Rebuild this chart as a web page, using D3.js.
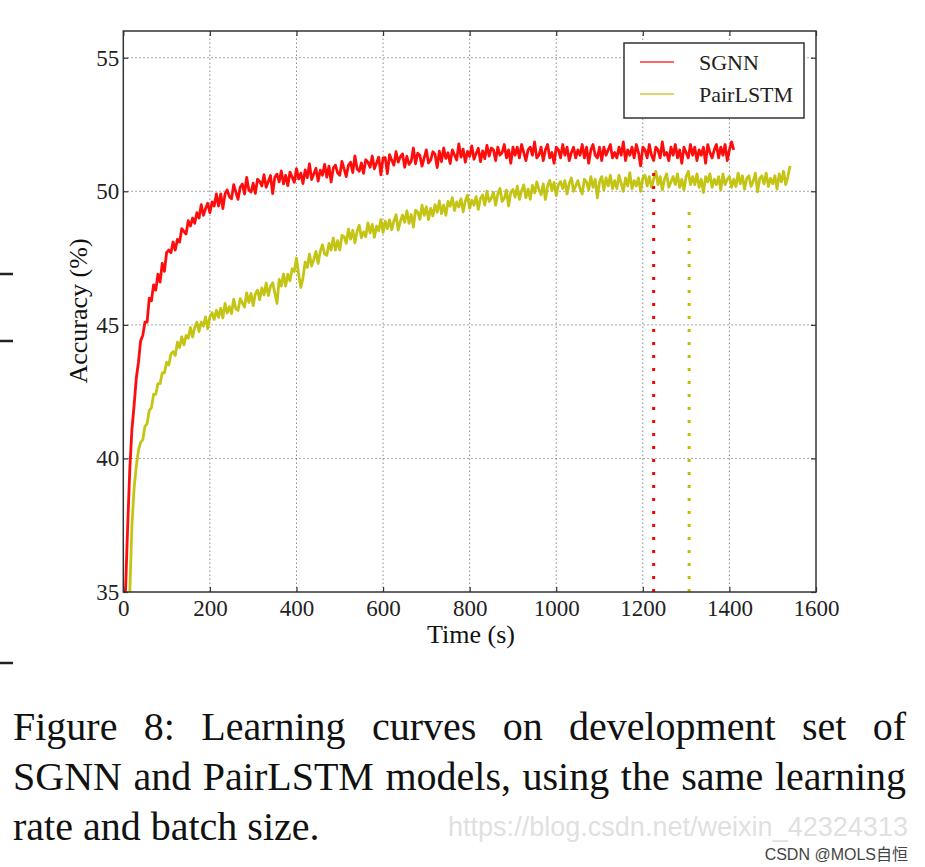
<!DOCTYPE html>
<html><head><meta charset="utf-8">
<script src="https://cdn.jsdelivr.net/npm/d3@7"></script>
<style>
html,body{margin:0;padding:0;background:#fff;}
svg{display:block;}
</style></head>
<body>
<svg id="chart" width="925" height="867"></svg>
<script>
// ---------- DATA ----------
const xTicks = [0,200,400,600,800,1000,1200,1400,1600];
const yTicks = [35,40,45,50,55];
const seriesNames = ["SGNN","PairLSTM"];
const seriesColors = ["#ff0000","#bfbf00"];
const timeStep = 5;
const sgnnStart = 5;
const pairStart = 15;
const sgnnAcc = [
35.0,37.4,39.6,41.1,42.0,43.0,43.6,44.4,44.6,45.1,45.1,46.0,45.9,46.5,46.3,46.9,46.6,47.3,47.0,47.7,
47.8,47.7,48.1,47.8,48.2,48.1,48.6,48.5,48.4,48.9,48.7,49.0,48.8,49.2,49.0,49.5,49.1,49.35,49.55,49.2,
49.6,49.45,49.9,49.45,49.9,49.35,49.9,50.05,49.8,49.72,50.25,49.97,49.7,50.15,50.27,49.9,50.52,50.05,49.97,50.3,
49.92,50.45,50.37,50.2,50.62,50.15,50.37,50.59,49.91,50.53,50.64,50.35,50.76,50.28,50.6,50.21,50.72,50.53,50.34,50.85,
50.46,50.68,50.29,50.8,50.51,51.03,50.44,50.65,50.86,50.38,50.79,50.6,51.01,50.53,50.94,50.35,50.86,50.98,50.69,50.6,
51.12,50.84,50.55,50.97,51.09,50.7,51.32,50.84,50.75,51.06,50.67,51.18,51.09,50.9,51.32,50.84,51.06,51.28,50.62,51.25,
51.26,50.66,51.37,51.17,50.98,51.48,51.09,51.29,51.4,50.9,51.31,51.01,51.12,51.62,51.03,51.43,51.34,50.94,51.25,51.55,
51.06,51.17,51.48,51.39,50.89,51.5,51.11,51.62,51.23,51.44,51.04,51.55,51.36,51.17,51.77,51.28,51.58,51.09,51.49,51.3,
51.7,51.2,51.41,51.61,51.11,51.51,51.22,51.72,51.32,51.62,51.55,51.15,51.65,51.35,51.45,51.75,51.25,51.55,51.05,51.65,
51.35,51.65,51.25,51.75,51.45,51.15,51.55,51.65,51.35,51.85,51.25,51.35,51.65,51.15,51.55,51.75,51.25,51.45,51.05,51.65,
51.55,51.25,51.75,51.35,51.65,51.15,51.45,51.65,51.25,51.55,51.35,51.75,51.25,51.65,51.05,51.55,51.75,51.35,51.25,51.65,
51.15,51.65,51.35,51.55,51.75,51.25,51.45,51.25,51.65,51.35,51.85,51.15,51.55,51.35,51.65,51.25,51.75,51.45,50.95,51.65,
51.55,51.25,51.75,51.35,51.15,51.65,51.55,51.25,51.85,51.35,51.45,51.15,51.65,51.35,51.75,51.25,51.55,51.05,51.65,51.45,
51.25,51.75,51.35,51.65,51.15,51.55,51.35,51.65,51.05,51.75,51.45,51.25,51.55,51.75,51.25,51.65,51.35,51.75,51.15,51.55,51.85,51.55
];
const pairAcc = [
35.0,37.5,38.9,39.7,40.3,40.6,40.7,41.2,41.3,41.8,41.9,42.4,42.4,42.8,42.8,43.2,43.2,43.6,43.5,43.9,
44.0,43.85,44.35,44.15,44.55,44.25,44.6,44.5,44.9,44.55,44.9,45.1,44.75,45.1,44.95,45.3,44.85,45.3,45.45,45.2,
45.54,45.28,45.62,45.26,45.8,45.44,45.68,45.42,45.96,45.6,45.54,45.98,45.82,45.66,46.2,45.84,46.18,45.72,46.16,46.3,
45.94,46.38,46.12,46.56,46.1,46.44,46.58,46.2,45.8,46.7,46.45,46.9,46.45,46.9,46.65,47.1,47.0,47.5,46.9,46.4,
46.75,47.35,47.15,47.65,47.2,47.45,47.75,47.3,47.75,48.0,47.65,47.6,48.05,47.8,48.25,47.8,48.15,47.8,48.35,48.3,
48.05,48.58,48.21,48.54,48.07,48.5,48.73,48.26,48.48,48.3,48.82,48.44,48.76,48.28,48.7,48.52,48.94,48.46,48.88,48.6,
48.93,48.56,48.89,49.12,48.55,48.88,49.11,48.84,49.27,48.8,49.13,48.66,49.29,49.22,48.95,49.48,49.1,49.42,48.94,49.36,
49.08,49.5,49.22,49.64,49.16,49.48,49.1,49.62,49.44,49.76,49.28,49.6,49.41,49.72,49.23,49.64,49.85,49.36,49.67,49.48,
49.8,49.32,49.74,49.86,49.48,50.0,49.62,49.74,49.96,49.48,49.9,50.11,49.62,49.73,50.04,49.45,49.96,50.07,49.78,50.19,
49.7,50.02,50.24,49.76,50.08,49.7,50.22,49.94,50.35,50.06,49.87,50.28,49.69,50.2,50.41,50.02,50.33,49.84,50.25,50.36,
50.1,50.4,49.9,50.3,50.5,50.0,50.2,50.4,50.1,49.9,50.45,50.35,50.05,50.55,50.15,50.45,49.75,50.35,50.55,50.05,
50.5,50.2,50.6,50.1,50.4,50.1,50.6,50.3,50.0,50.5,50.2,50.7,50.1,50.4,50.2,50.5,50.0,50.5,50.6,50.2,
50.55,50.15,50.45,50.75,50.25,50.55,50.05,50.45,50.65,50.15,50.35,50.55,50.25,50.65,50.15,50.45,50.05,50.55,50.75,50.25,
50.55,50.25,50.65,50.15,50.45,49.95,50.55,50.35,50.65,50.15,50.45,50.25,50.55,50.05,50.65,50.25,50.45,50.55,50.15,50.45,
50.18,50.68,50.28,50.58,50.08,50.48,50.58,50.18,50.38,50.68,49.98,50.48,50.58,50.28,50.68,50.18,50.48,50.28,50.58,50.08,
50.65,50.35,50.75,50.25,50.55,50.95
];
const markerTimes = [1225, 1307];
const markerTops = [51.0, 49.45];
const xLabel = "Time (s)";
const yLabel = "Accuracy (%)";
const captionLines = [
  "Figure 8:  Learning curves on development set of",
  "SGNN and PairLSTM models, using the same learning",
  "rate and batch size."
];
const watermark = "https://blog.csdn.net/weixin_42324313";
const credit = "CSDN @MOLS自恒";

// ---------- CHART ----------
const svg = d3.select("#chart");
const serif = "'Liberation Serif','Times New Roman',serif";
const x = d3.scaleLinear().domain([0,1600]).range([123.3,816]);
const y = d3.scaleLinear().domain([35,56]).range([592,31]);

// margin marks on left edge
svg.selectAll("line.mm").data([274,341,663]).enter().append("line")
  .attr("x1",0).attr("x2",13).attr("y1",d=>d).attr("y2",d=>d)
  .attr("stroke","#222").attr("stroke-width",2.5);

const g = svg.append("g");

// grid
g.selectAll("line.gx").data(xTicks.slice(1,-1)).enter().append("line")
  .attr("x1",d=>x(d)).attr("x2",d=>x(d)).attr("y1",y(35)).attr("y2",y(56))
  .attr("stroke","#8a8a8a").attr("stroke-width",1).attr("stroke-dasharray","1.5,2.5");
g.selectAll("line.gy").data(yTicks.slice(1)).enter().append("line")
  .attr("x1",x(0)).attr("x2",x(1600)).attr("y1",d=>y(d)).attr("y2",d=>y(d))
  .attr("stroke","#8a8a8a").attr("stroke-width",1).attr("stroke-dasharray","1.5,2.5");

// series
const sgnnData = sgnnAcc.map((v,i)=>({t:sgnnStart+i*timeStep, v}));
const pairData = pairAcc.map((v,i)=>({t:pairStart+i*timeStep, v}));
const line = d3.line().x(d=>x(d.t)).y(d=>y(d.v));
g.append("path").datum(pairData).attr("d",line).attr("fill","none")
  .attr("stroke",seriesColors[1]).attr("stroke-width",2.8).attr("stroke-opacity",0.92).attr("stroke-linejoin","round");
g.append("path").datum(sgnnData).attr("d",line).attr("fill","none")
  .attr("stroke",seriesColors[0]).attr("stroke-width",2.8).attr("stroke-opacity",0.95).attr("stroke-linejoin","round");

// dotted marker lines
markerTimes.forEach((t,i)=>{
  g.append("line").attr("x1",x(t)).attr("x2",x(t)).attr("y1",y(35)).attr("y2",y(markerTops[i]))
    .attr("stroke",seriesColors[i]).attr("stroke-width",3).attr("stroke-dasharray","3,10");
});

// axes
const tickFont = sel => sel.selectAll("text").attr("font-family",serif).attr("font-size",23).attr("fill","#222");
const ax = g.append("g").attr("transform",`translate(0,${y(35)})`)
  .call(d3.axisBottom(x).tickValues(xTicks).tickSizeInner(-5).tickSizeOuter(0).tickPadding(8).tickFormat(d3.format("d")));
tickFont(ax);
const axT = g.append("g").attr("transform",`translate(0,${y(56)})`)
  .call(d3.axisTop(x).tickValues(xTicks).tickSizeInner(-5).tickSizeOuter(0).tickFormat(""));
const ay = g.append("g").attr("transform",`translate(${x(0)},0)`)
  .call(d3.axisLeft(y).tickValues(yTicks).tickSizeInner(-5).tickSizeOuter(0).tickPadding(4).tickFormat(d3.format("d")));
tickFont(ay);
const ayR = g.append("g").attr("transform",`translate(${x(1600)},0)`)
  .call(d3.axisRight(y).tickValues(yTicks).tickSizeInner(-5).tickSizeOuter(0).tickFormat(""));
[ax,axT,ay,ayR].forEach(a=>{a.select(".domain").remove(); a.selectAll(".tick line").attr("stroke","#333").attr("stroke-width",1.2);});

// frame
g.append("rect").attr("x",x(0)).attr("y",y(56)).attr("width",x(1600)-x(0)).attr("height",y(35)-y(56))
  .attr("fill","none").attr("stroke","#333").attr("stroke-width",1.5);

// axis labels
svg.append("text").attr("x",471).attr("y",643).attr("text-anchor","middle")
  .attr("font-family",serif).attr("font-size",26).attr("fill","#111").text(xLabel);
svg.append("text").attr("transform","translate(87,311) rotate(-90)").attr("text-anchor","middle")
  .attr("font-family",serif).attr("font-size",26).attr("fill","#111").text(yLabel);

// legend
const lg = svg.append("g");
lg.append("rect").attr("x",624).attr("y",43).attr("width",180).attr("height",75)
  .attr("fill","#fff").attr("stroke","#333").attr("stroke-width",1.5);
seriesNames.forEach((n,i)=>{
  const yy = 62 + i*32;
  lg.append("line").attr("x1",640).attr("x2",674).attr("y1",yy).attr("y2",yy)
    .attr("stroke",seriesColors[i]).attr("stroke-width",2).attr("stroke-opacity",0.6);
  lg.append("text").attr("x",699).attr("y",yy+8).attr("font-family",serif).attr("font-size",22).attr("fill","#222").text(n);
});

// caption (justified)
const capSize = 40;
function placeLine(str, y0, justify){
  const words = str.split(/\s+/);
  const nodes = words.map(w => svg.append("text").attr("y",y0).attr("font-family",serif)
      .attr("font-size",capSize).attr("fill","#111").text(w));
  const widths = nodes.map(n=>n.node().getComputedTextLength());
  const total = d3.sum(widths);
  const x0 = 13, x1 = 906;
  const gap = justify ? (x1-x0-total)/(words.length-1) : capSize*0.25;
  let cx = x0;
  nodes.forEach((n,i)=>{ n.attr("x",cx); cx += widths[i]+gap; });
}
placeLine(captionLines[0], 740, true);
placeLine(captionLines[1], 790, true);
placeLine(captionLines[2], 840, false);

// watermark
svg.append("text").attr("x",448).attr("y",836).attr("font-family","'Liberation Sans',Arial,sans-serif")
  .attr("font-size",27).attr("fill","#d8d8d8").attr("fill-opacity",0.8).attr("textLength",460).attr("lengthAdjust","spacingAndGlyphs").text(watermark);
svg.append("text").attr("x",908).attr("y",860).attr("text-anchor","end").attr("font-family","'Liberation Sans','Noto Sans CJK SC',sans-serif")
  .attr("font-size",16).attr("fill","#444").text(credit);
</script>
</body></html>
